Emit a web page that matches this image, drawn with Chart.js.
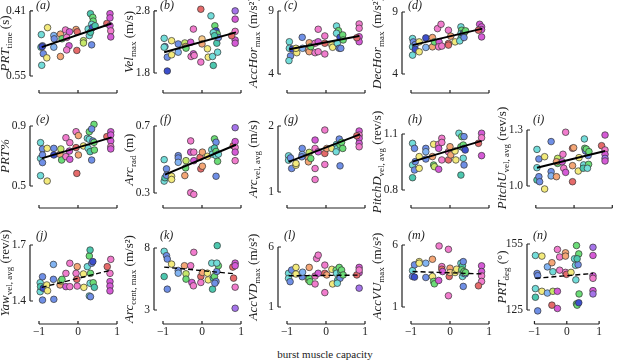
<!DOCTYPE html>
<html>
<head>
<meta charset="UTF-8">
<script src="https://cdn.jsdelivr.net/npm/chart.js"></script>
<style>
body { margin: 0; background: #fff; }
#wrap { position: relative; width: 617px; height: 361px; overflow: hidden; }
#wrap canvas { position: absolute; left: 0; top: 0; }
#xtitle { position: absolute; left: 0; width: 650px; top: 348px; text-align: center;
  font: 11px "Liberation Serif", serif; color: #222; }
</style>
</head>
<body>
<div id="wrap"><div id="xtitle">burst muscle capacity</div></div>
<script>
// one colour per individual
const groupColors = {
  C: '#72dcd9', T: '#4cc7ae', B: '#6f8fe6', D: '#3d4fcc', L: '#82b4f2',
  Y: '#f3ea7c', O: '#f4a676', G: '#c6e86a', N: '#6bdc77', P: '#f17ccd',
  M: '#d55ad6', R: '#e56a6a', Q: '#f7c98a', V: '#a574ea'
};

const xTickVals = [-1, 0, 1];
const xTickText = ['\u22121', '0', '1'];

// [burst muscle capacity, value, individual]
const prtTime = [[-0.93,0.527,'C'],[-0.95,0.488,'C'],[-0.94,0.461,'C'],[-0.91,0.485,'B'],[-0.89,0.502,'B'],[-0.80,0.511,'Y'],[-0.78,0.446,'Y'],[-0.62,0.463,'L'],[-0.61,0.470,'B'],[-0.62,0.488,'L'],[-0.45,0.460,'O'],[-0.45,0.508,'O'],[-0.41,0.470,'N'],[-0.32,0.451,'P'],[-0.22,0.455,'M'],[-0.29,0.467,'P'],[-0.23,0.485,'M'],[-0.29,0.494,'P'],[-0.05,0.450,'O'],[-0.02,0.455,'R'],[-0.03,0.495,'R'],[0.14,0.474,'G'],[0.14,0.479,'G'],[0.26,0.449,'C'],[0.29,0.463,'C'],[0.32,0.416,'T'],[0.38,0.424,'N'],[0.39,0.432,'N'],[0.35,0.439,'C'],[0.37,0.446,'D'],[0.32,0.456,'T'],[0.35,0.483,'B'],[0.44,0.442,'T'],[0.74,0.437,'R'],[0.82,0.416,'M'],[0.82,0.425,'M'],[0.82,0.442,'M'],[0.84,0.453,'P'],[0.84,0.466,'M'],[-0.92,0.487,'D']];
const prtTimeFit = [[-0.93,0.488],[0.86,0.437]];

const velMax = [[-0.97,2.358,'C'],[-0.95,2.226,'B'],[-0.97,2.215,'C'],[-0.89,2.055,'B'],[-0.89,1.832,'D'],[-0.78,2.32,'Y'],[-0.78,2.093,'Y'],[-0.61,2.268,'B'],[-0.61,2.135,'L'],[-0.44,2.284,'G'],[-0.42,2.226,'O'],[-0.41,2.2,'N'],[-0.29,2.295,'M'],[-0.22,2.507,'P'],[-0.28,2.066,'P'],[-0.22,2.109,'M'],[-0.2,2.082,'P'],[-0.03,2.827,'R'],[-0.03,1.976,'P'],[0,2.348,'Q'],[0,2.268,'O'],[0.14,2.19,'Y'],[0.16,2.055,'Y'],[0.23,2.72,'C'],[0.27,2.066,'C'],[0.29,1.922,'T'],[0.33,2.56,'N'],[0.36,2.48,'D'],[0.39,2.43,'N'],[0.38,2.28,'T'],[0.29,2.45,'C'],[0.42,2.37,'B'],[0.32,2.40,'T'],[0.40,2.135,'C'],[0.85,2.8,'V'],[0.85,2.667,'M'],[0.85,2.47,'P'],[0.85,2.33,'M'],[0.85,2.28,'M'],[0.76,2.40,'R']];
const velMaxFit = [[-0.97,2.135],[0.87,2.454]];

const accHor = [[-0.94,6.56,'C'],[-0.94,6.04,'C'],[-0.91,5.43,'B'],[-0.95,5.06,'C'],[-0.86,5.98,'D'],[-0.75,5.69,'Y'],[-0.77,6.04,'Y'],[-0.61,6.91,'B'],[-0.6,6.04,'L'],[-0.45,5.90,'O'],[-0.43,6.48,'O'],[-0.43,5.77,'O'],[-0.39,6.17,'N'],[-0.28,6.44,'P'],[-0.28,5.69,'P'],[-0.2,7.55,'P'],[-0.2,6.56,'M'],[-0.2,5.77,'P'],[-0.03,7.02,'P'],[-0.03,6.44,'R'],[-0.03,5.59,'P'],[0.15,6.30,'Y'],[0.17,6.12,'Y'],[0.27,7.81,'C'],[0.32,7.44,'N'],[0.27,7.23,'C'],[0.36,6.91,'D'],[0.43,7.10,'N'],[0.29,6.44,'C'],[0.34,6.04,'B'],[0.38,6.04,'B'],[0.44,6.70,'N'],[0.85,7.97,'P'],[0.85,7.63,'P'],[0.85,6.96,'M'],[0.85,6.56,'M'],[0.79,6.88,'R']];
const accHorFit = [[-0.94,5.96],[0.85,7.02]];

const decHor = [[-0.96,6.86,'C'],[-0.94,6.59,'B'],[-0.96,6.19,'C'],[-0.89,6.38,'B'],[-0.89,5.98,'D'],[-0.96,5.52,'C'],[-0.79,6.59,'Y'],[-0.79,5.79,'Y'],[-0.62,6.91,'D'],[-0.62,6.14,'L'],[-0.45,6.94,'O'],[-0.45,6.19,'O'],[-0.40,6.59,'N'],[-0.32,7.66,'P'],[-0.23,8.01,'P'],[-0.28,6.59,'M'],[-0.29,6.19,'P'],[-0.21,6.25,'P'],[-0.04,7.53,'P'],[-0.04,6.46,'R'],[-0.04,6.33,'R'],[0.02,7.05,'O'],[0.13,6.59,'Y'],[0.28,7.80,'C'],[0.30,7.53,'N'],[0.28,7.26,'C'],[0.32,7.05,'B'],[0.28,6.86,'T'],[0.25,6.67,'C'],[0.34,7.26,'D'],[0.38,7.40,'N'],[0.36,6.94,'B'],[0.40,7.48,'N'],[0.76,8.01,'M'],[0.81,7.80,'M'],[0.81,7.58,'M'],[0.81,6.99,'M'],[0.73,7.53,'R']];
const decHorFit = [[-0.96,6.33],[0.83,7.66]];

const prtPct = [[-0.96,0.789,'C'],[-0.96,0.684,'C'],[-0.96,0.569,'C'],[-0.91,0.747,'B'],[-0.91,0.707,'B'],[-0.91,0.656,'B'],[-0.79,0.751,'Y'],[-0.79,0.533,'Y'],[-0.62,0.751,'B'],[-0.62,0.707,'D'],[-0.46,0.711,'O'],[-0.44,0.747,'G'],[-0.42,0.673,'N'],[-0.31,0.822,'P'],[-0.21,0.789,'P'],[-0.31,0.696,'P'],[-0.22,0.733,'M'],[-0.21,0.678,'M'],[-0.05,0.862,'P'],[0.01,0.836,'O'],[-0.03,0.584,'R'],[0.01,0.707,'O'],[-0.05,0.756,'R'],[0.14,0.767,'Y'],[0.24,0.818,'C'],[0.29,0.862,'N'],[0.41,0.911,'N'],[0.35,0.88,'B'],[0.29,0.811,'C'],[0.26,0.751,'C'],[0.31,0.729,'T'],[0.35,0.673,'B'],[0.38,0.80,'B'],[0.41,0.791,'N'],[0.42,0.740,'N'],[0.74,0.829,'R'],[0.84,0.862,'M'],[0.84,0.84,'M'],[0.84,0.80,'M'],[0.84,0.762,'P'],[0.84,0.747,'M']];
const prtPctFit = [[-0.93,0.684],[0.86,0.824]];

const arcRad = [[-0.97,0.499,'C'],[-0.97,0.371,'C'],[-0.95,0.391,'T'],[-0.91,0.444,'B'],[-0.91,0.406,'B'],[-0.78,0.40,'Y'],[-0.78,0.381,'Y'],[-0.61,0.523,'B'],[-0.61,0.509,'B'],[-0.61,0.483,'L'],[-0.44,0.404,'O'],[-0.41,0.493,'G'],[-0.42,0.45,'N'],[-0.29,0.611,'P'],[-0.29,0.302,'P'],[-0.21,0.292,'P'],[-0.29,0.544,'M'],[-0.21,0.544,'P'],[-0.21,0.493,'M'],[-0.05,0.513,'R'],[-0.03,0.444,'R'],[0.01,0.46,'O'],[0.01,0.544,'O'],[0.14,0.519,'Y'],[0.25,0.558,'C'],[0.27,0.532,'C'],[0.32,0.623,'N'],[0.36,0.603,'B'],[0.32,0.568,'T'],[0.36,0.548,'N'],[0.36,0.523,'C'],[0.36,0.40,'B'],[0.40,0.489,'N'],[0.42,0.532,'C'],[0.80,0.582,'R'],[0.85,0.69,'V'],[0.85,0.607,'M'],[0.85,0.572,'P'],[0.85,0.544,'M'],[0.85,0.493,'P']];
const arcRadFit = [[-0.95,0.41],[0.87,0.588]];

const arcVel = [[-0.96,1.548,'C'],[-0.96,1.482,'C'],[-0.91,1.517,'B'],[-0.88,1.356,'B'],[-0.77,1.406,'Y'],[-0.77,1.432,'Y'],[-0.61,1.66,'B'],[-0.61,1.569,'L'],[-0.45,1.508,'O'],[-0.45,1.457,'O'],[-0.62,1.533,'B'],[-0.43,1.60,'G'],[-0.39,1.508,'N'],[-0.28,1.66,'P'],[-0.28,1.787,'M'],[-0.28,1.356,'P'],[-0.28,1.189,'P'],[-0.2,1.609,'M'],[-0.03,1.939,'P'],[-0.03,1.584,'R'],[-0.03,1.417,'P'],[0.02,1.66,'O'],[0.15,1.66,'Y'],[0.27,1.721,'C'],[0.29,1.66,'C'],[0.34,1.802,'B'],[0.36,1.711,'N'],[0.40,1.752,'N'],[0.43,1.66,'N'],[0.36,1.396,'B'],[0.26,1.609,'C'],[0.85,1.924,'M'],[0.85,1.863,'P'],[0.85,1.813,'M'],[0.85,1.737,'M'],[0.85,1.685,'P'],[0.79,1.852,'R']];
const arcVelFit = [[-0.96,1.457],[0.87,1.873]];

const pitchD = [[-0.96,1.05,'C'],[-0.96,0.934,'C'],[-0.96,0.866,'T'],[-0.91,1.023,'B'],[-0.91,0.907,'B'],[-0.89,0.952,'B'],[-0.79,0.916,'Y'],[-0.79,0.979,'Y'],[-0.62,1.023,'B'],[-0.62,1.005,'L'],[-0.62,0.966,'B'],[-0.45,0.979,'O'],[-0.42,1.045,'Y'],[-0.42,0.934,'N'],[-0.40,0.925,'G'],[-0.29,1.045,'P'],[-0.29,1.023,'M'],[-0.29,0.911,'M'],[-0.21,1.077,'P'],[-0.21,1.055,'P'],[-0.21,0.961,'P'],[-0.04,1.005,'P'],[-0.04,0.961,'R'],[0,1.032,'O'],[0.02,0.988,'O'],[0.13,1.009,'Y'],[0.15,0.961,'Y'],[0.23,1.104,'C'],[0.28,1.032,'N'],[0.28,0.88,'T'],[0.29,1.18,'C'],[0.34,1.17,'T'],[0.30,1.086,'N'],[0.36,1.086,'B'],[0.34,1.041,'N'],[0.36,1.023,'B'],[0.34,0.97,'C'],[0.39,1.014,'D'],[0.36,0.934,'B'],[0.73,1.05,'R'],[0.81,1.13,'M'],[0.81,1.104,'M'],[0.81,1.08,'P'],[0.81,0.984,'M']];
const pitchDFit = [[-0.96,0.952],[0.81,1.063]];

const pitchU = [[-0.97,1.196,'C'],[-0.97,1.098,'C'],[-0.97,1.032,'T'],[-0.92,1.145,'B'],[-0.92,1.05,'B'],[-0.9,1.023,'B'],[-0.77,1.157,'Y'],[-0.77,0.984,'Y'],[-0.60,1.238,'B'],[-0.60,1.077,'B'],[-0.60,1.054,'L'],[-0.46,1.05,'O'],[-0.43,1.148,'G'],[-0.43,1.121,'N'],[-0.46,1.13,'O'],[-0.22,1.288,'P'],[-0.31,1.13,'M'],[-0.29,1.17,'P'],[-0.27,1.095,'P'],[-0.22,1.073,'M'],[-0.04,1.202,'R'],[-0.01,1.205,'O'],[-0.04,1.023,'R'],[-0.04,1.109,'O'],[0.11,1.08,'Y'],[0.13,1.152,'Y'],[0.27,1.252,'C'],[0.28,1.202,'N'],[0.25,1.113,'C'],[0.24,1.095,'T'],[0.30,1.188,'B'],[0.32,1.198,'N'],[0.37,1.163,'B'],[0.38,1.116,'N'],[0.39,1.184,'N'],[0.35,1.095,'C'],[0.72,1.216,'R'],[0.81,1.273,'M'],[0.81,1.193,'P'],[0.81,1.17,'M'],[0.81,1.148,'V'],[0.81,1.134,'M']];
const pitchUFit = [[-0.97,1.098],[0.81,1.188]];

const yawVel = [[-0.97,1.498,'C'],[-0.97,1.45,'C'],[-0.96,1.477,'T'],[-0.91,1.53,'B'],[-0.91,1.405,'B'],[-0.89,1.468,'D'],[-0.80,1.486,'Y'],[-0.78,1.455,'Y'],[-0.63,1.596,'L'],[-0.63,1.516,'B'],[-0.62,1.409,'B'],[-0.46,1.486,'O'],[-0.44,1.507,'G'],[-0.41,1.516,'N'],[-0.31,1.548,'P'],[-0.21,1.602,'P'],[-0.31,1.477,'M'],[-0.21,1.477,'P'],[-0.02,1.584,'O'],[-0.05,1.548,'P'],[-0.03,1.516,'R'],[-0.02,1.48,'P'],[0.14,1.545,'Y'],[0.15,1.473,'Y'],[0.24,1.584,'C'],[0.29,1.641,'N'],[0.31,1.673,'T'],[0.31,1.495,'C'],[0.29,1.427,'C'],[0.32,1.548,'N'],[0.35,1.602,'B'],[0.38,1.611,'D'],[0.39,1.498,'N'],[0.42,1.473,'T'],[0.32,1.423,'B'],[0.75,1.584,'R'],[0.82,1.73,'V'],[0.84,1.623,'P'],[0.82,1.548,'P'],[0.82,1.504,'M'],[0.82,1.48,'M'],[0.82,1.454,'M']];
const yawVelFit = [[-0.93,1.473],[0.86,1.566]];

const arcCent = [[-0.97,7.73,'C'],[-0.97,5.70,'T'],[-0.91,7.38,'B'],[-0.89,7.11,'B'],[-0.89,4.68,'B'],[-0.78,6.70,'Y'],[-0.61,6.19,'B'],[-0.61,5.97,'L'],[-0.45,6.57,'O'],[-0.41,5.92,'G'],[-0.41,5.49,'N'],[-0.29,6.57,'P'],[-0.26,5.22,'M'],[-0.22,4.95,'P'],[-0.21,8.54,'P'],[-0.21,7.65,'P'],[-0.05,8.73,'R'],[-0.03,5.70,'R'],[-0.03,5.22,'P'],[0.01,6.03,'O'],[0.14,5.97,'Y'],[0.16,5.43,'Y'],[0.25,6.78,'C'],[0.29,5.57,'T'],[0.27,4.68,'T'],[0.39,8.19,'T'],[0.32,5.70,'N'],[0.36,5.30,'B'],[0.38,6.11,'B'],[0.42,6.57,'N'],[0.38,6.78,'C'],[0.33,5.16,'B'],[0.79,6.46,'R'],[0.85,6.78,'M'],[0.85,6.57,'M'],[0.81,5.57,'R'],[0.85,4.84,'P'],[0.85,3.14,'V']];
const arcCentFit = [[-0.97,6.46],[0.85,5.92]];

const accVD = [[-0.96,3.81,'C'],[-0.96,3.39,'C'],[-0.92,3.11,'B'],[-0.88,4.08,'B'],[-0.77,4.30,'Y'],[-0.77,3.75,'Y'],[-0.61,3.52,'B'],[-0.6,3.9,'L'],[-0.45,3.25,'G'],[-0.43,4.30,'O'],[-0.43,3.39,'N'],[-0.41,3.11,'N'],[-0.28,3.58,'P'],[-0.28,2.92,'P'],[-0.24,5.04,'P'],[-0.2,5.32,'P'],[-0.2,3.81,'M'],[-0.03,4.49,'P'],[-0.03,3.81,'R'],[-0.03,2.20,'P'],[0.02,3.67,'O'],[0.15,4.14,'Y'],[0.17,2.92,'Y'],[0.26,4.08,'N'],[0.27,3.81,'C'],[0.30,3.25,'T'],[0.34,4.30,'N'],[0.36,3.39,'B'],[0.38,3.94,'T'],[0.40,4.08,'N'],[0.29,2.98,'C'],[0.44,3.67,'N'],[0.85,4.30,'M'],[0.85,3.85,'M'],[0.85,2.57,'V'],[0.79,3.67,'R'],[0.85,4.08,'P']];
const accVDFit = [[-0.96,3.60],[0.85,3.66]];

const accVU = [[-0.96,3.94,'C'],[-0.96,3.46,'B'],[-0.91,4.40,'B'],[-0.91,3.41,'D'],[-0.79,4.66,'Y'],[-0.79,4.53,'Y'],[-0.62,4.53,'L'],[-0.62,3.38,'B'],[-0.45,4.85,'O'],[-0.45,3.46,'Y'],[-0.42,3.06,'N'],[-0.40,2.87,'N'],[-0.29,3.14,'M'],[-0.28,5.92,'P'],[-0.21,4.26,'P'],[-0.21,4.05,'R'],[-0.19,3.86,'M'],[-0.04,5.65,'P'],[-0.04,1.91,'P'],[-0.02,3.46,'R'],[0,4.13,'O'],[0,3.78,'Q'],[0.13,3.78,'Y'],[0.17,4.05,'Y'],[0.28,4.53,'C'],[0.32,4.32,'T'],[0.30,4.0,'N'],[0.34,4.66,'B'],[0.32,3.46,'C'],[0.34,3.73,'C'],[0.36,3.86,'N'],[0.39,3.67,'B'],[0.34,2.66,'B'],[0.40,3.78,'N'],[0.81,4.32,'M'],[0.81,3.86,'M'],[0.81,3.51,'P'],[0.81,3.06,'P'],[0.73,2.71,'R']];
const accVUFit = [[-0.96,3.86],[0.81,3.67]];

const prtDeg = [[-0.97,149.8,'C'],[-0.97,134.7,'C'],[-0.97,130.8,'T'],[-0.92,141.6,'B'],[-0.90,140.6,'B'],[-0.90,124.6,'B'],[-0.77,149.5,'Y'],[-0.77,133.5,'Y'],[-0.60,144.6,'L'],[-0.60,132.7,'L'],[-0.46,146.5,'O'],[-0.43,133.5,'G'],[-0.43,142.4,'C'],[-0.46,127.2,'R'],[-0.29,152.5,'P'],[-0.22,149.1,'P'],[-0.22,143.1,'P'],[-0.29,125.7,'M'],[-0.29,133.5,'M'],[-0.04,151.0,'O'],[-0.04,149.5,'O'],[-0.04,142.1,'P'],[-0.01,141.2,'R'],[0.13,142.1,'Y'],[0.24,148.3,'C'],[0.28,138.7,'C'],[0.27,145.3,'C'],[0.30,154.3,'N'],[0.35,158.0,'V'],[0.37,150.5,'N'],[0.30,127.8,'N'],[0.32,127.2,'N'],[0.37,128.3,'D'],[0.38,132.3,'N'],[0.35,145.6,'B'],[0.32,148.3,'T'],[0.81,153.5,'V'],[0.81,149.8,'M'],[0.81,140.6,'M'],[0.81,139.4,'P'],[0.81,133.8,'M'],[0.81,132.3,'V']];
const prtDegFit = [[-0.97,139.4],[0.81,141.6]];

// y tick values and their printed labels
const panels = [
  {tag:'(a)', pts:prtTime, fit:prtTimeFit, yTicks:[0.41,0.55], yText:['0.41','0.55'], reverse:true, title:[['PRT','i'],['time','s'],[' (s)','']]},
  {tag:'(b)', pts:velMax, fit:velMaxFit, yTicks:[1.8,2.8], yText:['1.8','2.8'], title:[['Vel','i'],['max','s'],[' (m/s)','']]},
  {tag:'(c)', pts:accHor, fit:accHorFit, yTicks:[4,9], yText:['4','9'], title:[['AccHor','i'],['max','s'],[' (m/s\u00b2)','']]},
  {tag:'(d)', pts:decHor, fit:decHorFit, yTicks:[4,9], yText:['4','9'], title:[['DecHor','i'],['max','s'],[' (m/s\u00b2)','']]},
  {tag:'(e)', pts:prtPct, fit:prtPctFit, yTicks:[0.5,0.9], yText:['0.5','0.9'], title:[['PRT%','i']]},
  {tag:'(f)', pts:arcRad, fit:arcRadFit, yTicks:[0.3,0.7], yText:['0.3','0.7'], title:[['Arc','i'],['rad','s'],[' (m)','']]},
  {tag:'(g)', pts:arcVel, fit:arcVelFit, yTicks:[1,2], yText:['1','2'], title:[['Arc','i'],['vel, avg','s'],[' (m/s)','']]},
  {tag:'(h)', pts:pitchD, fit:pitchDFit, yTicks:[0.8,1.1], yText:['0.8','1.1'], title:[['PitchD','i'],['vel, avg','s'],[' (rev/s)','']]},
  {tag:'(i)', pts:pitchU, fit:pitchUFit, yTicks:[1.0,1.3], yText:['1.0','1.3'], title:[['PitchU','i'],['vel, avg','s'],[' (rev/s)','']]},
  {tag:'(j)', pts:yawVel, fit:yawVelFit, yTicks:[1.4,1.7], yText:['1.4','1.7'], dashed:true, title:[['Yaw','i'],['vel, avg','s'],[' (rev/s)','']]},
  {tag:'(k)', pts:arcCent, fit:arcCentFit, yTicks:[3,8], yText:['3','8'], dashed:true, title:[['Arc','i'],['cent, max','s'],[' (m/s\u00b2)','']]},
  {tag:'(l)', pts:accVD, fit:accVDFit, yTicks:[1,6], yText:['1','6'], dashed:true, title:[['AccVD','i'],['max','s'],[' (m/s\u00b2)','']]},
  {tag:'(m)', pts:accVU, fit:accVUFit, yTicks:[1,6], yText:['1','6'], dashed:true, title:[['AccVU','i'],['max','s'],[' (m/s\u00b2)','']]},
  {tag:'(n)', pts:prtDeg, fit:prtDegFit, yTicks:[125,155], yText:['125','155'], dashed:true, title:[['PRT','i'],['deg','s'],[' (\u00b0)','']]}
];

// panel placement on the page
const colX = [30, 154, 278, 402, 527];
const rowSpine = [93, 208, 324];
const rowTag = [9, 123, 239];
const boxes = [
  {c:0,r:0,t:10,b:76},{c:1,r:0,t:10,b:73},{c:2,r:0,t:11,b:74},{c:3,r:0,t:12,b:74},
  {c:0,r:1,t:126,b:186},{c:1,r:1,t:126,b:193},{c:2,r:1,t:126,b:192},{c:3,r:1,t:134,b:190},{c:4,r:1,t:130,b:186},
  {c:0,r:2,t:245,b:301},{c:1,r:2,t:248,b:310},{c:2,r:2,t:247,b:307},{c:3,r:2,t:245,b:307},{c:4,r:2,t:244,b:310}
];
const YW = 28, XH = 40;
const SERIF = '"Liberation Serif", serif';

function drawRotated(ctx, parts, cx, cy) {
  const fonts = parts.map(p => (p[1] === 'i' ? 'italic ' : '') + (p[1] === 's' ? '9px ' : '13px ') + SERIF);
  const widths = parts.map((p, i) => { ctx.font = fonts[i]; return ctx.measureText(p[0]).width; });
  const total = widths.reduce((a, b) => a + b, 0);
  ctx.save();
  ctx.translate(cx, cy);
  ctx.rotate(-Math.PI / 2);
  ctx.textBaseline = 'middle';
  let pos = -total / 2;
  parts.forEach((p, i) => {
    ctx.font = fonts[i];
    ctx.fillText(p[0], pos, p[1] === 's' ? 3.5 : 0);
    pos += widths[i];
  });
  ctx.restore();
}

const decor = {
  id: 'decor',
  afterDraw(chart, args, o) {
    const {ctx, chartArea: a, scales: {x, y}} = chart;
    ctx.save();
    ctx.strokeStyle = '#222';
    ctx.lineWidth = 1.2;
    ctx.beginPath();
    ctx.moveTo(a.left, a.top);
    ctx.lineTo(a.left, a.bottom);
    o.yTicks.forEach(v => {
      const py = y.getPixelForValue(v);
      ctx.moveTo(a.left, py);
      ctx.lineTo(a.left + 3, py);
    });
    const x0 = x.getPixelForValue(-1), x1 = x.getPixelForValue(1);
    ctx.moveTo(x0, o.spineY);
    ctx.lineTo(x1, o.spineY);
    xTickVals.forEach(v => {
      const px = x.getPixelForValue(v);
      ctx.moveTo(px, o.spineY);
      ctx.lineTo(px, o.spineY - 3);
    });
    ctx.stroke();
    ctx.fillStyle = '#222';
    ctx.font = 'italic 12px ' + SERIF;
    ctx.textBaseline = 'alphabetic';
    ctx.fillText(o.tag, a.left + 6, o.tagY);
    drawRotated(ctx, o.title, a.left - 24, (a.top + a.bottom) / 2);
    ctx.restore();
  }
};

const wrap = document.getElementById('wrap');
panels.forEach((p, i) => {
  const bx = boxes[i];
  const ax = colX[bx.c];
  const cv = document.createElement('canvas');
  cv.width = 617; cv.height = 361;
  wrap.appendChild(cv);
  const lo = p.yTicks[0], hi = p.yTicks[1];
  new Chart(cv, {
    type: 'scatter',
    data: {
      datasets: [
        {
          data: p.pts.map(d => ({x: d[0], y: d[1]})),
          pointBackgroundColor: p.pts.map(d => groupColors[d[2]]),
          pointBorderColor: '#333',
          pointBorderWidth: 0.7,
          pointRadius: 3.3,
          clip: false,
          order: 1
        },
        {
          type: 'line',
          data: p.fit.map(d => ({x: d[0], y: d[1]})),
          borderColor: '#000',
          borderWidth: p.dashed ? 1.4 : 2,
          borderDash: p.dashed ? [5, 3] : [],
          pointRadius: 0,
          clip: false,
          order: 0
        }
      ]
    },
    options: {
      responsive: false,
      animation: false,
      events: [],
      layout: {padding: {left: ax - YW, top: bx.t, right: 617 - (ax + 87), bottom: 361 - bx.b - XH}},
      plugins: {
        legend: {display: false},
        tooltip: {enabled: false},
        decor: {yTicks: p.yTicks, spineY: rowSpine[bx.r], tag: p.tag, tagY: rowTag[bx.r], title: p.title}
      },
      scales: {
        x: {
          type: 'linear', min: 1 - 87 / 39, max: 1,
          afterFit: s => { s.height = XH; },
          afterBuildTicks: s => { s.ticks = xTickVals.map(v => ({value: v})); },
          grid: {display: false, drawTicks: false},
          border: {display: false},
          ticks: {
            display: bx.r === 2, padding: 325 - bx.b, autoSkip: false, maxRotation: 0,
            color: '#222', font: {family: SERIF, size: 11.5},
            callback: v => xTickText[xTickVals.indexOf(v)]
          }
        },
        y: {
          type: 'linear', min: lo, max: hi, reverse: !!p.reverse,
          afterFit: s => { s.width = YW; },
          afterBuildTicks: s => { s.ticks = p.yTicks.map(v => ({value: v})); },
          grid: {display: false, drawTicks: false},
          border: {display: false},
          ticks: {
            padding: 4, color: '#222', font: {family: SERIF, size: 11.5},
            callback: v => p.yText[p.yTicks.indexOf(v)]
          }
        }
      }
    },
    plugins: [decor]
  });
});
</script>
</body>
</html>
